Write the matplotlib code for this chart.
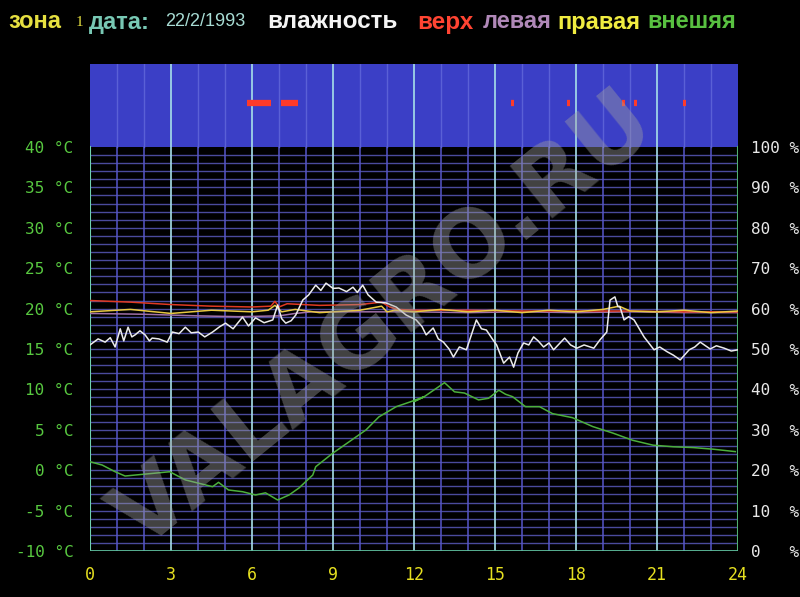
import matplotlib
matplotlib.use("Agg")
import matplotlib.pyplot as plt
from matplotlib.ticker import FixedLocator

# ---------------- data ----------------
hour_ticks = [0, 3, 6, 9, 12, 15, 18, 21, 24]
temp_ticks = [-10, -5, 0, 5, 10, 15, 20, 25, 30, 35, 40]
hum_ticks = [0, 10, 20, 30, 40, 50, 60, 70, 80, 90, 100]

# humidity (влажность), %
hum_t = [0.0, 0.3, 0.56, 0.75, 0.93, 1.12, 1.25, 1.41, 1.55, 1.67, 1.85, 2.04, 2.2, 2.3,
         2.55, 2.86, 3.05, 3.3, 3.53, 3.75, 4.01, 4.25, 4.54, 4.8, 5.02, 5.3, 5.65, 5.87,
         6.13, 6.45, 6.77, 6.95, 7.1, 7.25, 7.45, 7.62, 7.88, 8.1, 8.36, 8.55, 8.74, 9.0,
         9.22, 9.5, 9.74, 9.9, 10.1, 10.3, 10.6, 10.97, 11.34, 11.71, 12.08, 12.3, 12.45,
         12.71, 12.9, 13.09, 13.3, 13.46, 13.68, 13.94, 14.31, 14.5, 14.68, 14.9, 15.06,
         15.32, 15.54, 15.69, 15.85, 16.06, 16.25, 16.43, 16.6, 16.8, 17.0, 17.17, 17.58,
         17.8, 18.03, 18.3, 18.66, 18.88, 19.14, 19.26, 19.44, 19.55, 19.63, 19.78, 19.95,
         20.15, 20.52, 20.89, 21.1, 21.38, 21.6, 21.86, 22.19, 22.4, 22.6, 22.97, 23.2,
         23.49, 23.75, 24.0]
hum_v = [51.0, 52.5, 51.7, 52.8, 50.5, 55.0, 52.0, 55.4, 53.0, 53.5, 54.5, 53.5, 52.0,
         52.7, 52.5, 51.7, 54.2, 53.8, 55.4, 54.0, 54.2, 53.0, 54.2, 55.5, 56.4, 55.0,
         57.9, 55.7, 57.7, 56.5, 57.2, 60.9, 57.5, 56.4, 57.0, 58.4, 62.1, 63.4, 65.8,
         64.5, 66.3, 65.0, 65.1, 64.2, 65.3, 64.0, 65.8, 63.4, 61.6, 61.4, 60.4, 58.4,
         57.2, 55.5, 53.5, 55.2, 52.5, 51.7, 50.0, 48.0, 50.5, 49.8, 57.2, 55.0, 54.7,
         52.5, 51.0, 46.5, 48.0, 45.5, 49.0, 51.5, 51.0, 53.0, 52.0, 50.5, 51.5, 49.8,
         52.7, 51.0, 50.2, 51.0, 50.2, 52.2, 54.2, 62.1, 62.9, 60.5, 60.4, 57.2, 58.0,
         57.2, 53.0, 49.8, 50.5, 49.3, 48.5, 47.3, 49.8, 50.5, 51.7, 50.0, 50.8, 50.2,
         49.5, 49.8]

# greenhouse air temperatures, °C
top_t = [0, 1.5, 3, 4.5, 6, 6.7, 6.85, 7.0, 7.3, 8.5, 10, 10.8, 11.1, 11.4, 12, 14, 16, 18, 20, 22, 24]
top_v = [21.0, 20.8, 20.5, 20.3, 20.2, 20.3, 20.9, 20.2, 20.6, 20.4, 20.5, 20.8, 20.2, 19.9, 19.8,
         19.8, 19.7, 19.7, 19.7, 19.6, 19.6]
left_t = [0, 2, 4, 5.5, 7, 7.6, 8.2, 10, 12, 14, 16, 18, 20, 22, 24]
left_v = [19.4, 19.3, 19.1, 19.0, 19.1, 19.4, 19.6, 19.6, 19.6, 19.5, 19.6, 19.5, 19.6, 19.5, 19.5]
right_t = [0, 1.5, 3, 4.5, 6, 6.6, 6.85, 7.1, 7.6, 8.5, 10, 10.8, 11.0, 11.3, 12, 13, 14,
           15, 16, 17, 18, 19, 19.6, 20, 21, 22, 23, 24]
right_v = [19.6, 19.9, 19.4, 19.8, 19.6, 19.8, 20.4, 19.6, 19.9, 19.5, 19.8, 20.3, 19.6, 19.8, 19.6,
           19.9, 19.6, 19.8, 19.5, 19.8, 19.6, 19.9, 20.3, 19.7, 19.6, 19.8, 19.5, 19.7]

# outside temperature (внешняя), °C
out_t = [0.0, 0.45, 0.93, 1.3, 1.67, 2.3, 2.95, 3.53, 4.01, 4.54, 4.76, 5.13, 5.65, 6.13,
         6.5, 6.95, 7.37, 7.74, 8.25, 8.36, 8.99, 9.59, 10.22, 10.7, 11.34, 11.9, 12.38,
         12.0, 12.38, 13.13, 13.5, 13.87, 14.39, 14.76, 15.14, 15.39, 15.65, 16.13, 16.65,
         17.13, 17.87, 18.62, 19.36, 20.1, 20.85, 21.6, 22.34, 23.08, 23.9]
out_v = [1.05, 0.64, -0.19, -0.72, -0.6, -0.4, -0.19, -1.2, -1.6, -2.04, -1.5, -2.45, -2.66,
         -3.07, -2.8, -3.69, -3.07, -2.2, -0.6, 0.43, 2.1, 3.5, 4.98, 6.6, 7.86, 8.5, 9.1,
         8.5, 9.1, 10.83, 9.7, 9.55, 8.7, 8.9, 9.9, 9.4, 9.1, 7.86, 7.86, 7.0, 6.5, 5.4, 4.6,
         3.7, 3.1, 2.9, 2.8, 2.6, 2.3]

# ventilation events shown in the top strip (hours)
event_start = [5.8, 7.06, 15.6, 17.65, 19.7, 20.15, 21.95]
event_end = [6.69, 7.7, 15.72, 17.77, 19.82, 20.27, 22.07]

# ---------------- figure ----------------
BG = "black"
fig = plt.figure(figsize=(8.0, 5.97), dpi=100, facecolor=BG)
ax = fig.add_axes([90 / 800, 1 - 551 / 597, (738 - 90) / 800, (551 - 64) / 597])
ax.set_facecolor(BG)
TOP = 40 + (147 - 64) / 8.08
ax.set_xlim(0, 24)
ax.set_ylim(-10, TOP)

# top strip
ax.axhspan(40, TOP, color="#3b3fc6", zorder=0, lw=0)

# grid
for v in range(-9, 40):
    ax.axhline(v, color="#4a4a9c", lw=1.0, zorder=1)
for h in range(1, 24):
    if h % 3:
        ax.plot([h, h], [-10, 40], color="#5656c8", lw=1.1, zorder=1)
        ax.plot([h, h], [40, TOP], color="#5a60d6", lw=1.0, zorder=1)
for h in range(3, 24, 3):
    ax.axvline(h, color="#a8e0ea", lw=1.2, zorder=2)
ax.plot([0, 0], [-10, 40], color="#70d0b0", lw=1.5, zorder=3)
ax.plot([24, 24], [-10, 40], color="#50b070", lw=1.5, zorder=3)
ax.axhline(-10, color="#60c0a0", lw=2, zorder=3)

for s in ax.spines.values():
    s.set_visible(False)

# event marks
for a, b in zip(event_start, event_end):
    ax.plot([a, b], [45.4, 45.4], color="#ff3a2a", lw=4.5, solid_capstyle="butt", zorder=4)

# temperature lines
ax.plot(out_t, out_v, color="#4cb03c", lw=1.1, zorder=5)
ax.plot(left_t, left_v, color="#a070a8", lw=1.1, zorder=5)
ax.plot(top_t, top_v, color="#e03a22", lw=1.1, zorder=6)
ax.plot(right_t, right_v, color="#e8c840", lw=1.1, zorder=6)

# humidity on right axis
ax2 = ax.twinx()
ax2.set_ylim(0, (TOP + 10) * 2)
ax2.plot(hum_t, hum_v, color="#ececec", lw=1.1, zorder=7)
for s in ax2.spines.values():
    s.set_visible(False)

mono = "DejaVu Sans Mono"
ax.xaxis.set_major_locator(FixedLocator(hour_ticks))
ax.set_xticklabels([str(h) for h in hour_ticks], family=mono, fontsize=12, color="#e6e020")
ax.yaxis.set_major_locator(FixedLocator(temp_ticks))
ax.set_yticklabels([f"{v} °C" for v in temp_ticks], family=mono, fontsize=11.5, color="#58c840")
ax.tick_params(axis="both", length=0)
ax.tick_params(axis="x", pad=11)
ax.tick_params(axis="y", pad=12)

ax2.yaxis.set_major_locator(FixedLocator(hum_ticks))
ax2.set_yticklabels([f"{v:<3d} %" for v in hum_ticks], family=mono, fontsize=11.5, color="#e8e8e8")
ax2.tick_params(axis="y", length=0, pad=9)

# watermark
fig.text(0.48, 0.462, "VALAGRO.RU", rotation=39, ha="center", va="center",
         fontsize=66, fontweight="bold", color="#a0a0a0", alpha=0.42, family="DejaVu Sans",
         zorder=20)

# header
y_h = 1 - 22 / 597
parts = [
    (8, "зона", "#e6e040", 17, "Liberation Sans", "bold"),
    (76, "1", "#e6e040", 11, "Liberation Serif", "normal"),
    (89, "дата:", "#78c8b4", 17, "Liberation Sans", "bold"),
    (165, "22/2/1993", "#a8dcd4", 13, "Liberation Sans", "normal"),
    (267, "влажность", "#f4f4f4", 17.5, "Liberation Sans", "bold"),
    (417, "верх", "#ff4432", 17.5, "Liberation Sans", "bold"),
    (483, "левая", "#b088b8", 17, "Liberation Sans", "bold"),
    (557, "правая", "#f0ec40", 17, "Liberation Sans", "bold"),
    (647, "внешяя", "#58c040", 17, "Liberation Sans", "bold"),
]
for x, s, c, fs, fam, fw in parts:
    fig.text(x / 800, y_h, s, color=c, fontsize=fs, family=[fam, "DejaVu Sans"],
             fontweight=fw, ha="left", va="center")

fig.savefig("out.png", dpi=100, facecolor=BG)
